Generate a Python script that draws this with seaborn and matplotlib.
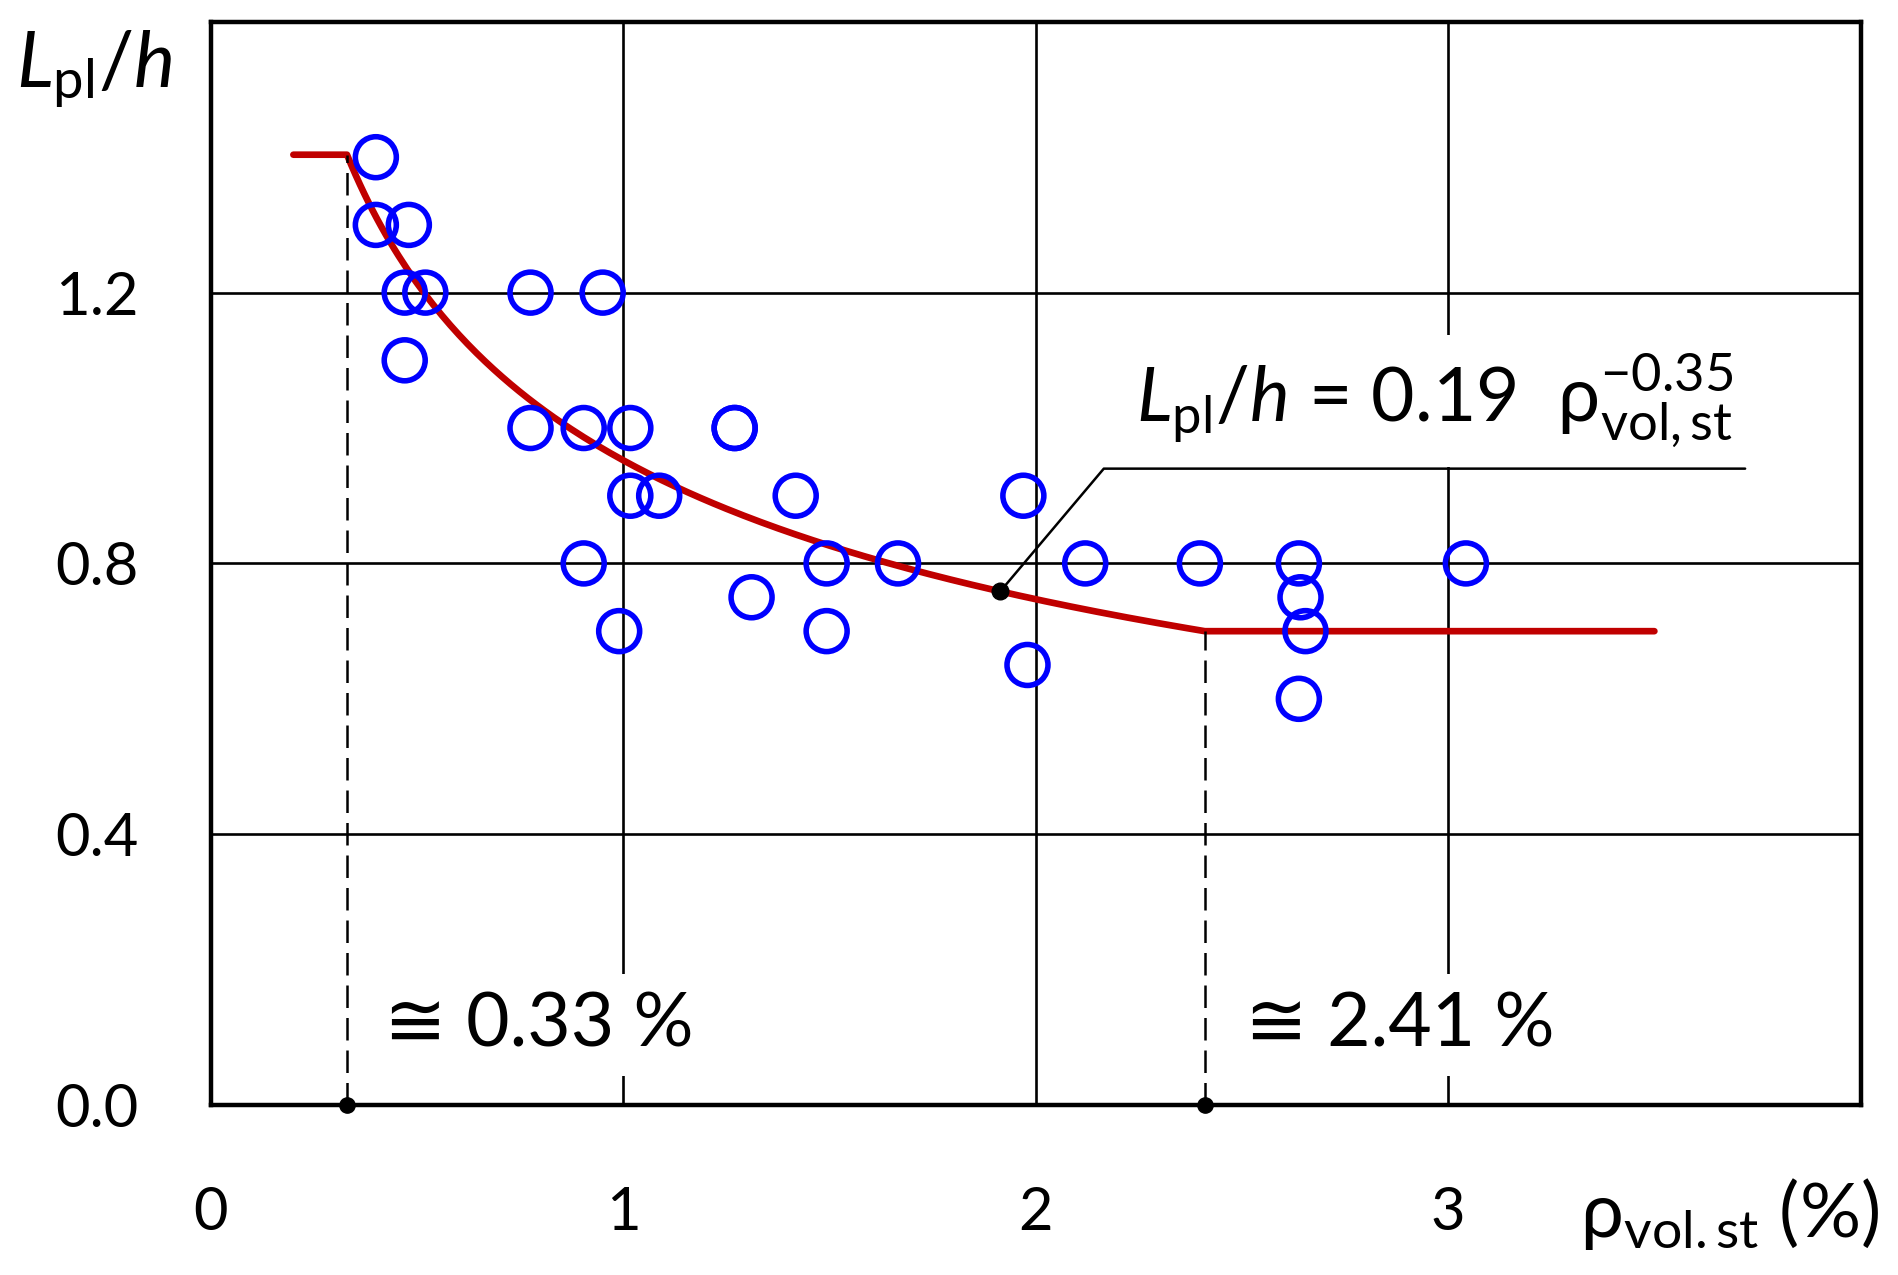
import numpy as np
import pandas as pd
import matplotlib
matplotlib.use('Agg')
import matplotlib.pyplot as plt
import seaborn as sns

# test results: rho_vol,st (%) and Lpl/h
rho_test = [0.40, 0.40, 0.48, 0.47, 0.52, 0.47, 0.775, 0.95, 0.775, 0.904,
            1.017, 1.27, 1.27, 1.017, 1.087, 1.418, 0.904, 0.99, 1.311, 1.493,
            1.493, 1.666, 1.97, 1.98, 2.12, 2.398, 2.638, 2.642, 2.654, 2.638,
            3.043]
lph_test = [1.40, 1.30, 1.30, 1.20, 1.20, 1.10, 1.20, 1.20, 1.00, 1.00,
            1.00, 1.00, 1.00, 0.90, 0.90, 0.90, 0.80, 0.70, 0.75, 0.80,
            0.70, 0.80, 0.90, 0.65, 0.80, 0.80, 0.80, 0.75, 0.70, 0.60,
            0.80]

# fitted relation Lpl/h = 0.19 rho^-0.35 (rho as a fraction), capped at both ends
coef = 0.19
expo = -0.35
rho_lo = 0.33    # %
rho_hi = 2.41    # %
rho_start = 0.2
rho_end = 3.5
rho_mark = 1.914  # point on the curve the label points to

xticks = [0, 1, 2, 3]
yticks = [0.0, 0.4, 0.8, 1.2]

eq_label = r'$L_{\mathrm{pl}}/h$ = 0.19  $\mathrm{\rho}^{\mathrm{-0.35}}_{\mathrm{vol,st}}$'

# fonts
sns.set_style('white')
plt.rcParams['font.family'] = ['Lato', 'DejaVu Sans']
plt.rcParams['mathtext.fontset'] = 'custom'
plt.rcParams['mathtext.rm'] = 'Lato'
plt.rcParams['mathtext.it'] = 'Lato:italic'
plt.rcParams['mathtext.bf'] = 'Lato:bold'
plt.rcParams['mathtext.sf'] = 'Lato'
plt.rcParams['mathtext.fallback'] = 'stixsans'
plt.rcParams['text.color'] = 'black'
plt.rcParams['xtick.color'] = 'black'
plt.rcParams['ytick.color'] = 'black'


def fit(r):
    return coef * (np.asarray(r) / 100.0) ** expo


lph_lo = float(fit(rho_lo))
lph_hi = float(fit(rho_hi))

rho_mid = np.linspace(rho_lo, rho_hi, 200)
curve = pd.DataFrame({
    'rho': np.concatenate([[rho_start], rho_mid, [rho_end]]),
    'lph': np.concatenate([[lph_lo], fit(rho_mid), [lph_hi]]),
})
tests = pd.DataFrame({'rho': rho_test, 'lph': lph_test})

fig = plt.figure(figsize=(18.98, 12.75), dpi=100)
ax = fig.add_axes([0.1111, 0.1333, 0.8692, 0.8496])

# fitted curve
sns.lineplot(data=curve, x='rho', y='lph', sort=False, estimator=None,
             color='#C00000', lw=4.8, solid_capstyle='round', ax=ax, zorder=2)

# test points
sns.scatterplot(data=tests, x='rho', y='lph', marker='o', s=870,
                facecolor='none', edgecolor='#0000FF', linewidth=4.0,
                ax=ax, zorder=2.5)

# dashed limits with dots on the axis
for r, top in [(rho_lo, lph_lo), (rho_hi, lph_hi)]:
    ax.plot([r, r], [0, top], color='black', lw=1.8, dashes=(9, 4), zorder=4)
    ax.plot(r, 0, 'o', color='black', ms=11, zorder=5, clip_on=False)

# leader from curve to equation
y_mark = float(fit(rho_mark))
ax.plot([rho_mark, 2.165, 3.72], [y_mark, 0.94, 0.94], color='black', lw=1.8, zorder=4)
ax.plot(rho_mark, y_mark, 'o', color='black', ms=12, zorder=5)

box = dict(facecolor='white', edgecolor='none', pad=12)
ax.text(2.244, 1.009, eq_label, fontsize=54, va='baseline', ha='left', bbox=box, zorder=3)
ax.text(0.42, 0.086, '≅ 0.33 %', fontsize=54, va='baseline', ha='left', bbox=box, zorder=3)
ax.text(2.508, 0.086, '≅ 2.41 %', fontsize=54, va='baseline', ha='left', bbox=box, zorder=3)

ax.set_xlim(0, 4)
ax.set_ylim(0, 1.6)
ax.set_xticks(xticks)
ax.set_xticklabels([str(t) for t in xticks])
ax.set_yticks(yticks)
ax.set_yticklabels([f'{t:.1f}' for t in yticks])
ax.tick_params(axis='both', length=0, labelsize=43, colors='black')
ax.tick_params(axis='x', pad=58)
ax.tick_params(axis='y', pad=52)
ax.grid(True, color='black', lw=1.9)
ax.set_axisbelow(True)
for s in ax.spines.values():
    s.set_visible(True)
    s.set_color('black')
    s.set_linewidth(3.2)
ax.set_xlabel('')
ax.set_ylabel('')

fig.text(16 / 1898, 1 - 86 / 1275, r'$L_{\mathrm{pl}}/h$', fontsize=56, va='baseline', ha='left')
fig.text(1580 / 1898, 1 - 1237 / 1275, r'$\mathrm{\rho}_{\mathrm{vol.st}}$ (%)', fontsize=55,
         va='baseline', ha='left')

fig.savefig('out.png', dpi=100)
